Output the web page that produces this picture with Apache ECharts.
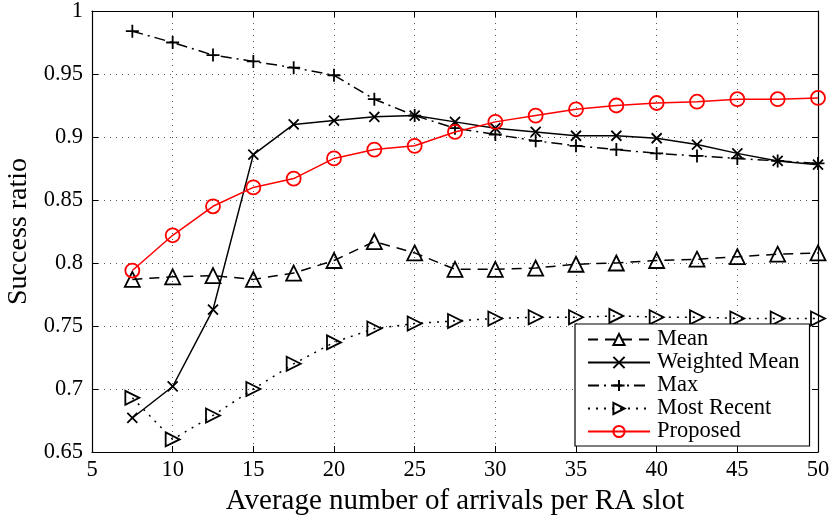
<!DOCTYPE html>
<html>
<head>
<meta charset="utf-8">
<script src="https://cdn.jsdelivr.net/npm/echarts@6/dist/echarts.min.js"></script>
<style>
  html, body { margin: 0; padding: 0; background: #fff; }
  #chart { width: 834px; height: 521px; }
</style>
</head>
<body>
<div id="chart"></div>
<script>
// 横轴：每个RA时隙的平均到达数
const arrivals = [7.5, 10, 12.5, 15, 17.5, 20, 22.5, 25, 27.5, 30, 32.5, 35, 37.5, 40, 42.5, 45, 47.5, 50];

// 各方法的成功率
const meanRatio = [0.787, 0.789, 0.790, 0.787, 0.792, 0.802, 0.817, 0.808, 0.795, 0.795, 0.796, 0.799, 0.800, 0.802, 0.803, 0.805, 0.807, 0.808];
const weightedMeanRatio = [0.677, 0.702, 0.763, 0.886, 0.910, 0.913, 0.916, 0.917, 0.912, 0.907, 0.904, 0.901, 0.901, 0.899, 0.894, 0.887, 0.881, 0.878];
const maxRatio = [0.984, 0.975, 0.965, 0.960, 0.955, 0.949, 0.930, 0.917, 0.907, 0.902, 0.897, 0.893, 0.890, 0.887, 0.885, 0.883, 0.881, 0.879];
const mostRecentRatio = [0.693, 0.660, 0.679, 0.700, 0.720, 0.737, 0.748, 0.752, 0.754, 0.756, 0.757, 0.757, 0.758, 0.757, 0.757, 0.756, 0.756, 0.756];
const proposedRatio = [0.794, 0.822, 0.845, 0.860, 0.867, 0.883, 0.890, 0.893, 0.904, 0.912, 0.917, 0.922, 0.925, 0.927, 0.928, 0.930, 0.930, 0.931];

const seriesNames = ['Mean', 'Weighted Mean', 'Max', 'Most Recent', 'Proposed'];

const FONT = 'Liberation Serif';

// 标记形状
const SYM_TRI_UP = 'path://M5,0L10,9L0,9Z';
const SYM_TRI_RIGHT = 'path://M0,0L9,5L0,10Z';
const SYM_X = 'path://M0,0L10,10M10,0L0,10';
const SYM_PLUS = 'path://M5,0L5,10M0,5L10,5';

function pairs(ys) {
    return arrivals.map((x, i) => [x, ys[i]]);
}

function makeSeries(name, ys, color, dash, symbol, size) {
    return {
        name: name,
        type: 'line',
        data: pairs(ys),
        symbol: symbol,
        symbolSize: size,
        showAllSymbol: true,
        color: color,
        lineStyle: { color: color, width: 1.5, type: dash },
        itemStyle: { color: 'transparent', borderColor: color, borderWidth: 1.8 },
        emphasis: { disabled: true },
        animation: false,
        z: name === 'Proposed' ? 3 : 2
    };
}

const chart = echarts.init(document.getElementById('chart'));

const gridLine = { show: true, lineStyle: { color: '#555', type: [1, 5], width: 1 } };
const tickIn = { show: true, inside: true, length: 6, lineStyle: { color: '#000' } };

chart.setOption({
    backgroundColor: '#fff',
    animation: false,
    grid: { left: 92, right: 16, top: 11, bottom: 69, containLabel: false, outerBoundsMode: 'none' },
    legend: {
        data: seriesNames,
        orient: 'vertical',
        left: 575,
        top: 324,
        itemWidth: 62,
        itemHeight: 14,
        itemGap: 0,
        padding: [4, 10, 3, 12],
        borderColor: '#000',
        borderWidth: 1.2,
        borderRadius: 0,
        backgroundColor: '#fff',
        textStyle: { fontFamily: FONT, fontSize: 22.5, lineHeight: 21.5, color: '#000', padding: [0, 0, 0, 2] },
        selectedMode: false
    },
    xAxis: [
        {
            type: 'value', min: 5, max: 50, interval: 5,
            name: 'Average number of arrivals per RA slot',
            nameLocation: 'middle', nameGap: 31,
            nameTextStyle: { fontFamily: FONT, fontSize: 29, color: '#000' },
            axisLine: { show: true, onZero: false, lineStyle: { color: '#000', width: 1.2 } },
            axisTick: tickIn,
            axisLabel: { fontFamily: FONT, fontSize: 22.5, color: '#000', margin: 7 },
            splitLine: gridLine
        },
        {
            type: 'value', min: 5, max: 50, interval: 5, position: 'top',
            axisLine: { show: true, onZero: false, lineStyle: { color: '#000', width: 1.2 } },
            axisTick: tickIn,
            axisLabel: { show: false },
            splitLine: { show: false }
        }
    ],
    yAxis: [
        {
            type: 'value', min: 0.65, max: 1, interval: 0.05,
            name: 'Success ratio',
            nameLocation: 'middle', nameGap: 59,
            nameTextStyle: { fontFamily: FONT, fontSize: 28, color: '#000' },
            axisLine: { show: true, onZero: false, lineStyle: { color: '#000', width: 1.2 } },
            axisTick: tickIn,
            axisLabel: { fontFamily: FONT, fontSize: 22.5, color: '#000', margin: 9 },
            splitLine: gridLine
        },
        {
            type: 'value', min: 0.65, max: 1, interval: 0.05, position: 'right',
            axisLine: { show: true, onZero: false, lineStyle: { color: '#000', width: 1.2 } },
            axisTick: tickIn,
            axisLabel: { show: false },
            splitLine: { show: false }
        }
    ],
    series: [
        makeSeries('Mean', meanRatio, '#000', [10, 7], SYM_TRI_UP, 15),
        makeSeries('Weighted Mean', weightedMeanRatio, '#000', 'solid', SYM_X, 10),
        makeSeries('Max', maxRatio, '#000', [11, 5, 2, 5], SYM_PLUS, 13),
        makeSeries('Most Recent', mostRecentRatio, '#000', [2, 6], SYM_TRI_RIGHT, 14),
        makeSeries('Proposed', proposedRatio, '#ff0000', 'solid', 'circle', 14)
    ]
});
</script>
</body>
</html>
